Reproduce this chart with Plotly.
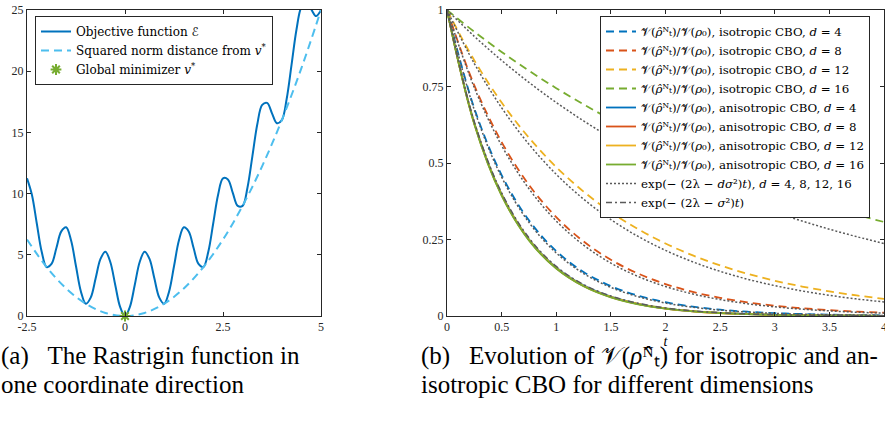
import plotly.graph_objects as go

# ---------------- data: panel (a) ----------------
v_grid = [-2.5, -2.375, -2.25, -2.125, -2.0, -1.875, -1.75, -1.625, -1.5, -1.375, -1.25, -1.125,
          -1.0, -0.875, -0.75, -0.625, -0.5, -0.375, -0.25, -0.125, 0.0, 0.125, 0.25, 0.375,
          0.5, 0.625, 0.75, 0.875, 1.0, 1.125, 1.25, 1.375, 1.5, 1.625, 1.75, 1.875, 2.0,
          2.125, 2.25, 2.375, 2.5, 2.625, 2.75, 2.875, 3.0, 3.125, 3.25, 3.375, 3.5, 3.625,
          3.75, 3.875, 4.0, 4.125, 4.25, 4.375, 4.5, 4.625, 4.75, 4.875, 5.0]
objective = [11.25, 9.91, 7.56, 5.25, 4.0, 4.25, 5.56, 6.91, 7.25, 6.16, 4.06, 2.0,
             1.0, 1.5, 3.06, 4.66, 5.25, 4.41, 2.56, 0.75, 0.0, 0.75, 2.56, 4.41,
             5.25, 4.66, 3.06, 1.5, 1.0, 2.0, 4.06, 6.16, 7.25, 6.91, 5.56, 4.25, 4.0,
             5.25, 7.56, 9.91, 11.25, 11.16, 10.06, 9.0, 9.0, 10.5, 13.06, 15.66, 17.25, 17.41,
             16.56, 15.75, 16.0, 17.75, 20.56, 23.41, 25.25, 25.66, 25.06, 24.5, 25.0]
v_coarse = [-2.5, -2.0, -1.5, -1.0, -0.5, 0.0, 0.5, 1.0, 1.5, 2.0, 2.5, 3.0, 3.5, 4.0, 4.5, 5.0]
sq_norm = [6.25, 4.0, 2.25, 1.0, 0.25, 0.0, 0.25, 1.0, 2.25, 4.0, 6.25, 9.0, 12.25, 16.0, 20.25, 25.0]
minimizer_v = [0.0]
minimizer_E = [0.0]

# ---------------- data: panel (b) ----------------
t_grid = [0, 0.25, 0.5, 0.75, 1.0, 1.25, 1.5, 1.75, 2.0, 2.25, 2.5, 2.75, 3.0, 3.25, 3.5, 3.75, 4.0]
iso_d4 = [1, 0.6787, 0.4607, 0.3127, 0.2122, 0.1440, 0.0978, 0.0663, 0.0450, 0.0306, 0.0207, 0.0141, 0.0096, 0.0065, 0.0044, 0.0030, 0.0020]
iso_d8 = [1, 0.7539, 0.5684, 0.4285, 0.3231, 0.2436, 0.1837, 0.1385, 0.1044, 0.0787, 0.0593, 0.0447, 0.0337, 0.0254, 0.0192, 0.0145, 0.0109]
iso_d12 = [1, 0.8353, 0.6977, 0.5827, 0.4868, 0.4066, 0.3396, 0.2837, 0.2369, 0.1979, 0.1653, 0.1381, 0.1153, 0.0963, 0.0805, 0.0672, 0.0561]
iso_d16 = [1, 0.9289, 0.8629, 0.8015, 0.7445, 0.6916, 0.6424, 0.5968, 0.5543, 0.5149, 0.4783, 0.4443, 0.4127, 0.3834, 0.3561, 0.3308, 0.3073]
aniso_d4 = [1, 0.6310, 0.3980, 0.2510, 0.1585, 0.1000, 0.0630, 0.0398, 0.0251, 0.0158, 0.0100, 0.0063, 0.0040, 0.0025, 0.0016, 0.0010, 0.0006]
aniso_d8 = [1, 0.6285, 0.3950, 0.2485, 0.1560, 0.0980, 0.0617, 0.0388, 0.0244, 0.0153, 0.0096, 0.0061, 0.0038, 0.0024, 0.0015, 0.0009, 0.0006]
aniso_d12 = [1, 0.6297, 0.3965, 0.2497, 0.1572, 0.0990, 0.0624, 0.0393, 0.0247, 0.0156, 0.0098, 0.0062, 0.0039, 0.0024, 0.0015, 0.0010, 0.0006]
aniso_d16 = [1, 0.6270, 0.3935, 0.2470, 0.1550, 0.0972, 0.0610, 0.0383, 0.0240, 0.0151, 0.0095, 0.0060, 0.0037, 0.0023, 0.0015, 0.0009, 0.0006]
rate_d4 = [1, 0.6737, 0.4538, 0.3058, 0.2060, 0.1388, 0.0935, 0.0630, 0.0424, 0.0286, 0.0193, 0.0130, 0.0087, 0.0059, 0.0040, 0.0027, 0.0018]
rate_d8 = [1, 0.7464, 0.5571, 0.4159, 0.3104, 0.2317, 0.1729, 0.1291, 0.0963, 0.0719, 0.0537, 0.0401, 0.0299, 0.0223, 0.0167, 0.0124, 0.0093]
rate_d12 = [1, 0.8249, 0.6805, 0.5613, 0.4630, 0.3820, 0.3151, 0.2599, 0.2144, 0.1769, 0.1459, 0.1203, 0.0993, 0.0819, 0.0676, 0.0557, 0.0460]
rate_d16 = [1, 0.9139, 0.8353, 0.7634, 0.6977, 0.6376, 0.5827, 0.5326, 0.4868, 0.4449, 0.4066, 0.3716, 0.3396, 0.3104, 0.2837, 0.2592, 0.2369]
rate_aniso = [1, 0.6345, 0.4025, 0.2554, 0.1620, 0.1028, 0.0652, 0.0414, 0.0263, 0.0167, 0.0106, 0.0067, 0.0043, 0.0027, 0.0017, 0.0011, 0.0007]

dims = ["4", "8", "12", "16"]
iso_series = [iso_d4, iso_d8, iso_d12, iso_d16]
aniso_series = [aniso_d4, aniso_d8, aniso_d12, aniso_d16]
rate_series = [rate_d4, rate_d8, rate_d12, rate_d16]
colors = ["#0072BD", "#D95319", "#EDB120", "#77AC30"]

FONT = "Liberation Serif"
LFONT = "DejaVu Serif, DejaVu Sans"
AX = "#262626"
W, H = 885, 424

fig = go.Figure()

# panel (a)
fig.add_trace(go.Scatter(x=v_grid, y=objective, mode="lines", line=dict(color="#0072BD", width=2, shape="spline"),
                         name="Objective function <i>ℰ</i>", xaxis="x", yaxis="y", legend="legend"))
fig.add_trace(go.Scatter(x=v_coarse, y=sq_norm, mode="lines",
                         line=dict(color="#4DBEEE", width=2, dash="8px,5px", shape="spline"),
                         name="Squared norm distance from <i>v</i><sup>*</sup>", xaxis="x", yaxis="y", legend="legend"))
fig.add_trace(go.Scatter(x=minimizer_v, y=minimizer_E, mode="markers", cliponaxis=False,
                         marker=dict(symbol="asterisk-open", size=9, color="#77AC30",
                                     line=dict(color="#77AC30", width=2)),
                         name="Global minimizer <i>v</i><sup>*</sup>", xaxis="x", yaxis="y", legend="legend"))

# panel (b)
V = "𝒱(<i>ρ̂</i>ᴺₜ)/𝒱(<i>ρ</i>₀)"
for d, s, c in zip(dims, iso_series, colors):
    fig.add_trace(go.Scatter(x=t_grid, y=s, mode="lines", line=dict(color=c, width=1.8, dash="8px,5px", shape="spline"),
                             name=f"{V}, isotropic CBO, <i>d</i> = {d}", xaxis="x2", yaxis="y2", legend="legend2"))
for d, s, c in zip(dims, aniso_series, colors):
    fig.add_trace(go.Scatter(x=t_grid, y=s, mode="lines", line=dict(color=c, width=1.8, shape="spline"),
                             name=f"{V}, anisotropic CBO, <i>d</i> = {d}", xaxis="x2", yaxis="y2", legend="legend2"))
for i, s in enumerate(rate_series):
    fig.add_trace(go.Scatter(x=t_grid, y=s, mode="lines", line=dict(color="#5a5a5a", width=1.5, dash="2px,2px", shape="spline"),
                             name="exp(− (2λ − <i>dσ</i>²)<i>t</i>), <i>d</i> = 4, 8, 12, 16",
                             showlegend=(i == 0), legendgroup="rate", xaxis="x2", yaxis="y2", legend="legend2"))
fig.add_trace(go.Scatter(x=t_grid, y=rate_aniso, mode="lines",
                         line=dict(color="#5a5a5a", width=1.5, dash="6px,3px,2px,3px", shape="spline"),
                         name="exp(− (2λ − <i>σ</i>²)<i>t</i>)", xaxis="x2", yaxis="y2", legend="legend2"))


def px_x(p):
    return p / W


def px_y(p):
    return 1 - p / H


axis_common = dict(showline=True, linecolor=AX, linewidth=1, mirror="ticks", ticks="inside", ticklen=4,
                   tickcolor=AX, tickwidth=1, showgrid=False, zeroline=False, automargin=False,
                   ticklabeloverflow="allow",
                   tickfont=dict(family=FONT, size=12, color="#262626"))

fig.update_layout(
    width=W, height=H, margin=dict(l=0, r=0, t=0, b=0),
    paper_bgcolor="white", plot_bgcolor="white",
    font=dict(family=FONT, size=13, color="black"),
    xaxis=dict(domain=[px_x(27), px_x(321)], range=[-2.5, 5], anchor="y",
               tickvals=[-2.5, 0, 2.5, 5], ticktext=["-2.5", "0", "2.5", "5"], **axis_common),
    yaxis=dict(domain=[px_y(316), px_y(10)], range=[0, 25], anchor="x",
               tickvals=[0, 5, 10, 15, 20, 25], ticktext=["0", "5", "10", "15", "20", "25"], **axis_common),
    xaxis2=dict(domain=[px_x(447), px_x(884)], range=[0, 4], anchor="y2",
                tickvals=[0, 0.5, 1, 1.5, 2, 2.5, 3, 3.5, 4],
                ticktext=["0", "0.5", "1", "1.5", "2", "2.5", "3", "3.5", "4"],
                title=dict(text="<i>t</i>", font=dict(family=FONT, size=14), standoff=0), **axis_common),
    yaxis2=dict(domain=[px_y(316), px_y(10)], range=[0, 1], anchor="x2",
                tickvals=[0, 0.25, 0.5, 0.75, 1], ticktext=["0", "0.25", "0.5", "0.75", "1"], **axis_common),
    legend=dict(x=px_x(35), y=px_y(16), xanchor="left", yanchor="top", bgcolor="white",
                bordercolor=AX, borderwidth=1, font=dict(family=LFONT, size=12), tracegroupgap=0),
    legend2=dict(x=px_x(600), y=px_y(16), xanchor="left", yanchor="top", bgcolor="white",
                 bordercolor=AX, borderwidth=1, font=dict(family=LFONT, size=11.8), tracegroupgap=0),
    showlegend=True,
)

cap_font = dict(family=FONT, size=25, color="black")
captions = [
    (0, 356, "(a)&nbsp;&nbsp;&nbsp;The Rastrigin function in"),
    (0, 384, "one coordinate direction"),
    (420, 356, "(b)&nbsp;&nbsp;&nbsp;Evolution of 𝒱(<i>ρ̂</i>ᴺₜ) for isotropic and an-"),
    (420, 384, "isotropic CBO for different dimensions"),
]
for cx, cy, txt in captions:
    fig.add_annotation(text=txt, xref="paper", yref="paper", x=px_x(cx), y=px_y(cy), xanchor="left",
                       yanchor="middle", align="left", showarrow=False, font=cap_font, borderpad=0)

fig.write_html("out.html", config={"displayModeBar": False},
               post_script="document.body.style.margin='0';document.body.style.overflow='hidden';")
